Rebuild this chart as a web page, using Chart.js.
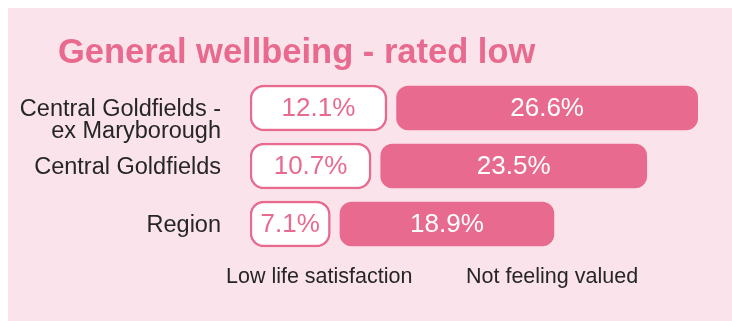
<!DOCTYPE html>
<html>
<head>
<meta charset="utf-8">
<title>General wellbeing - rated low</title>
<script src="https://cdn.jsdelivr.net/npm/chart.js@4.4.1/dist/chart.umd.min.js"></script>
<style>
  html, body { margin: 0; background: #fff; }
  .panel {
    position: absolute;
    left: 8px;
    top: 8px;
    width: 724px;
    height: 313px;
    background: #fbe3eb;
  }
</style>
</head>
<body>
<div class="panel"><canvas id="chart"></canvas></div>
<script>
const title = "General wellbeing - rated low";
// leading blank line drops the two-line label a little below the row centre
const categories = [["", "Central Goldfields -", "ex Maryborough"], "Central Goldfields", "Region"];
const seriesNames = ["Low life satisfaction", "Not feeling valued"];
const lowLifeSatisfaction = [12.1, 10.7, 7.1];
const notFeelingValued = [26.6, 23.5, 18.9];

(() => {
  const $ = (id) => document.getElementById(id);
  const PINK = "#e86a8f";
  const INK = "#262626";
  const FONT = "'Liberation Sans', Arial, sans-serif";
  const GAP = 0.85; // space between the two bars of a row, in % units

  const values = [lowLifeSatisfaction, notFeelingValued];
  const labelColors = [PINK, "#fff"];

  // percentage text centred in each bar
  const barLabels = {
    id: "barLabels",
    afterDatasetsDraw(chart) {
      const ctx = chart.ctx;
      ctx.save();
      ctx.font = `26px ${FONT}`;
      ctx.textAlign = "center";
      ctx.textBaseline = "middle";
      chart.data.datasets.forEach((ds, di) => {
        chart.getDatasetMeta(di).data.forEach((bar, i) => {
          const { x, y, base } = bar.getProps(["x", "y", "base"], true);
          ctx.fillStyle = labelColors[di];
          ctx.fillText(values[di][i].toFixed(1) + "%", (x + base) / 2, y + 1);
        });
      });
      ctx.restore();
    },
  };

  // heading plus the two column captions under the bars
  const headings = {
    id: "headings",
    afterDraw(chart) {
      const ctx = chart.ctx;
      ctx.save();
      ctx.textAlign = "left";
      ctx.textBaseline = "alphabetic";
      ctx.fillStyle = PINK;
      ctx.font = `bold 34.5px ${FONT}`;
      ctx.fillText(title, 50, 55);
      ctx.fillStyle = INK;
      ctx.font = `21.5px ${FONT}`;
      ctx.fillText(seriesNames[0], 218, 275);
      ctx.fillText(seriesNames[1], 458, 275);
      ctx.restore();
    },
  };

  new Chart($("chart"), {
    type: "bar",
    data: {
      labels: categories,
      datasets: [
        {
          label: seriesNames[0],
          data: lowLifeSatisfaction.map((v) => [0, v]),
          backgroundColor: "#fff",
          borderColor: PINK,
          borderWidth: 2.5,
          borderRadius: 14,
          borderSkipped: false,
          barThickness: 46,
        },
        {
          label: seriesNames[1],
          data: notFeelingValued.map((v, i) => {
            const start = lowLifeSatisfaction[i] + GAP;
            return [start, start + v];
          }),
          backgroundColor: PINK,
          borderWidth: 0,
          borderRadius: 12,
          borderSkipped: false,
          barThickness: 44,
        },
      ],
    },
    options: {
      indexAxis: "y",
      responsive: true,
      maintainAspectRatio: false,
      animation: false,
      datasets: { bar: { grouped: false } },
      layout: { padding: { top: 71, bottom: 68, left: 0, right: 6.6 } },
      plugins: {
        legend: { display: false },
        tooltip: { enabled: false },
      },
      scales: {
        x: { display: false, min: 0, max: 42 },
        y: {
          grid: { display: false, drawTicks: false },
          border: { display: false },
          ticks: {
            autoSkip: false,
            padding: 29,
            labelOffset: 1.5,
            color: INK,
            font: { family: FONT, size: 23.5, lineHeight: "22px" },
          },
          afterFit: (scale) => {
            scale.width = 242;
          },
        },
      },
    },
    plugins: [barLabels, headings],
  });
})();
</script>
</body>
</html>
